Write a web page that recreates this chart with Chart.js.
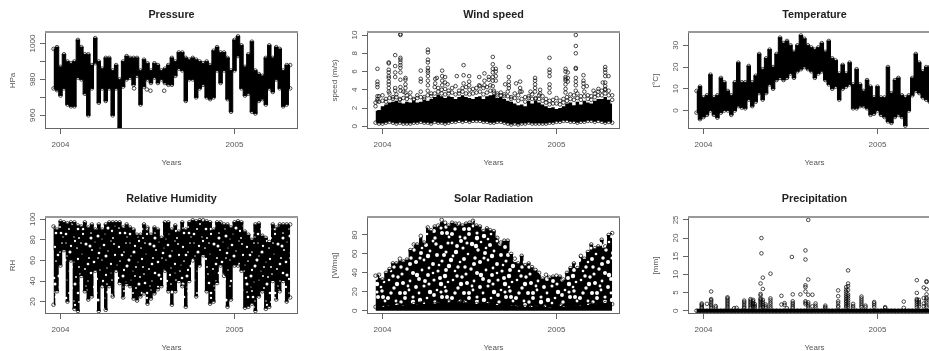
<!DOCTYPE html>
<html><head><meta charset="utf-8">
<script src="https://cdn.jsdelivr.net/npm/chart.js@4"></script>
<style>
html,body{margin:0;padding:0;width:929px;height:351px;overflow:hidden;background:#fff}
#wrap{position:absolute;left:0;top:0;width:929px;height:351px;overflow:hidden;filter:blur(0.4px)}
canvas{position:absolute}
</style></head><body><div id="wrap"></div>
<script>
const years=[2003.96,2003.98,2004.00,2004.02,2004.04,2004.06,2004.08,2004.10,2004.12,2004.14,
2004.16,2004.18,2004.20,2004.22,2004.24,2004.26,2004.28,2004.30,2004.32,2004.34,
2004.36,2004.38,2004.40,2004.42,2004.44,2004.46,2004.48,2004.50,2004.52,2004.54,
2004.56,2004.58,2004.60,2004.62,2004.64,2004.66,2004.68,2004.70,2004.72,2004.74,
2004.76,2004.78,2004.80,2004.82,2004.84,2004.86,2004.88,2004.90,2004.92,2004.94,
2004.96,2004.98,2005.00,2005.02,2005.04,2005.06,2005.08,2005.10,2005.12,2005.14,
2005.16,2005.18,2005.20,2005.22,2005.24,2005.26,2005.28,2005.30,2005.32];

const pressureHigh=[997,998,987,994,990,989,990,1002,998,994,
994,988,1003,990,986,992,992,985,988,980,
990,993,992,992,992,985,991,989,985,989,
988,985,986,988,992,990,995,995,992,991,
992,991,990,989,990,988,996,998,995,995,
992,985,1002,1004,999,987,994,1001,985,983,
982,992,999,992,998,997,985,988,988];
const pressureLow=[975,974,971,975,966,965,965,981,980,972,
960,975,989,967,975,968,975,960,975,953,
976,980,981,977,982,966,976,980,978,981,
978,980,978,977,977,982,986,985,968,980,
980,970,975,977,970,969,970,985,978,985,
969,962,985,993,975,971,972,962,961,968,
969,966,975,973,980,975,965,966,975];
const pressureLoose=[[2004.423,975],[2004.496,974.4],[2004.517,973.7],[2004.596,973.7]];

const windLow=[.4,.3,.3,.4,.5,.4,.3,.4,.3,.3,
.3,.4,.4,.5,.4,.4,.3,.5,.4,.4,
.3,.4,.5,.5,.6,.5,.6,.5,.6,.6,
.6,.5,.5,.4,.4,.5,.5,.4,.3,.2,
.3,.2,.3,.3,.4,.3,.3,.3,.3,.3,
.4,.4,.5,.5,.6,.6,.5,.5,.4,.5,
.5,.6,.6,.5,.6,.5,.4,.5,.4];
const windHigh=[1.7,1.8,2.2,2.4,2.6,2.7,2.8,2.6,2.5,2.7,
2.6,2.8,2.6,2.7,2.9,2.8,3.0,3.2,3.5,3.3,
3.1,3.3,3.2,3.0,3.2,3.4,3.2,3.1,3.0,3.2,
3.3,3.0,3.3,3.4,3.5,3.1,3.2,3.0,2.8,2.7,
2.5,2.3,2.4,2.2,2.8,2.5,2.8,2.6,2.4,2.2,
2.0,2.1,1.9,2.0,2.2,2.5,2.6,2.3,2.7,2.4,
2.8,2.6,2.5,2.8,3.0,3.0,3.2,2.9,2.5];
const windRim=[2.6,3.3,3.4,3.0,3.6,3.2,3.5,3.0,3.8,3.4,
3.7,3.0,3.4,3.8,3.2,3.9,3.6,4.3,4.2,4.0,
4.1,3.9,4.2,4.4,3.9,4.2,4.3,4.0,4.1,4.2,
4.4,4.2,4.3,4.5,3.9,3.6,3.7,3.5,3.8,3.2,
3.6,3.4,3.8,3.2,3.3,3.5,3.1,3.4,3.3,3.0,
2.8,2.9,3.1,2.8,3.0,3.2,3.5,3.4,3.6,3.3,
3.8,3.4,3.3,3.6,3.8,3.9,4.1,3.9,3.4];
const windMid=[2.2,2.7,2.8,2.7,3.1,3.0,3.2,2.9,3.1,3.0,
3.2,2.9,3.1,3.2,3.0,3.4,3.3,3.6,3.8,3.6,
3.5,3.6,3.7,3.5,3.6,3.8,3.6,3.5,3.6,3.7,
3.8,3.5,3.7,3.9,3.7,3.4,3.4,3.3,3.3,3.0,
3.1,2.8,3.0,2.7,3.1,3.0,3.0,3.0,2.8,2.6,
2.4,2.5,2.5,2.4,2.6,2.8,3.0,2.9,3.1,2.9,
3.3,3.0,2.9,3.2,3.4,3.4,3.6,3.4,2.9];
const windLoose=[[2003.971,6.3,4.9,4.6,4.3,3.3,3.0,2.8],[2004.036,7.0,6.9,6.2,5.9,5.5,5.3,4.9,4.6,4.2,3.8],
[2004.073,7.8,6.6,5.9,5.4,4.2,3.9],[2004.103,10.0,10.1,7.5,7.3,7.0,6.7,6.4,5.9,5.1,4.3,3.9],
[2004.132,5.3,5.1,4.6,4.2,3.7],[2004.22,6.1,5.2,4.9],[2004.261,8.4,8.1,7.3,7.0,6.4,6.1,5.9,5.5,5.0,4.5],
[2004.303,5.2,4.7],[2004.312,5.3],[2004.343,6.1,5.5,5.0,4.5],[2004.36,5.4,4.8],[2004.374,4.6],
[2004.427,5.5],[2004.466,6.7,5.6,4.7],[2004.498,5.5,4.9,4.5],[2004.556,5.4,4.5],[2004.586,5.8,5.0,4.5],
[2004.611,5.4,5.1],[2004.634,7.6,6.8,6.3,5.9,5.4,5.0,4.4],[2004.651,6.3,6.0,5.5,5.0],[2004.705,4.6],
[2004.726,6.5,5.4,4.9,4.5,4.2],[2004.768,4.7],[2004.791,4.9,4.2,3.8],[2004.851,3.8],
[2004.877,5.3,5.0,4.6,4.2,3.8],[2004.906,4.0,3.6],[2004.96,7.5,6.2,5.9,5.5,4.6,4.2,3.7],
[2005.052,6.3,6.0,5.4,5.2,5.0,4.6,4.1,3.7],[2005.065,5.9,5.3,4.9],[2005.111,10.0,8.8,8.0,6.4,6.3,5.3,4.9,4.5,3.9],
[2005.155,5.6,5.0,4.7,4.3],[2005.174,4.4],[2005.213,3.9],[2005.241,4.1],[2005.266,4.8],
[2005.28,6.5,6.2,5.9,5.5,4.8,4.4,4.0],[2005.299,5.5]];

const tempHigh=[9,11,6,7,16.5,6,7,15,13,9,
7,13,22,13,13,20.5,13,16,26,19,
24,28,20,26,33.5,31,32,30,27,30,
34.5,33,30,29,28,29,31,27,32,24,
23,17,21,17,22,12,19,12,9,14,
11,6,11,6,6,20,8,14,15,7,
6,7,15,26,22,18,20,20,20];
const tempLow=[-1,-4,-3,-2,0,-2,-3.3,-1,0,0,
-2,0,2,1.3,1,5,2,4,8,5,
8,12,10,14,15,14,15,17,15,18,
19,20,19,18,15,17,18,14,12,10,
11,5,10,11,12,1,1,2,2,1,
-2,-1.5,0,-2,-3,-5,-5.7,-3,-2,-3,
-7,0,7,9,8,6,5,4,6];

const humidityHigh=[93,90,98,97,96,97,97,94,93,97,
92,95,90,95,90,95,97,97,97,97,
92,95,92,90,85,85,95,92,85,92,
90,82,97,97,90,94,88,97,90,97,
99,98,99,99,98,97,90,97,97,95,
95,92,97,98,97,88,85,80,95,96,
84,82,78,95,92,95,95,95,95];
const humidityDark=[70,60,80,85,85,85,80,75,70,80,
75,85,75,80,70,85,85,90,85,80,
65,70,70,65,60,60,70,65,55,70,
70,60,85,85,70,80,60,85,70,80,
90,85,90,92,85,75,65,88,85,80,
70,65,85,88,80,60,55,50,75,78,
60,55,50,80,75,85,85,80,80];
const humidityLow=[17,30,55,70,20,60,13,11,45,30,
22,25,50,11,35,12,35,25,50,38,
24,37,35,23,21,25,28,18,23,28,
32,35,50,30,17,30,40,35,15,40,
60,25,55,65,30,18,20,38,55,45,
15,22,55,55,50,14,15,18,11,25,
30,13,15,40,22,30,40,20,24];

const solarHigh=[37,38,33,40,44,50,50,55,52,54,
64,70,70,79,72,88,85,89,90,96,
93,90,93,92,92,90,92,93,95,90,
89,84,87,85,84,77,72,74,74,60,
55,50,58,48,50,46,43,40,34,38,
35,36,37,36,33,40,45,50,45,58,
55,62,70,66,68,75,68,80,82];
const solarBase=[4,5,4,6,5,5,6,6,5,7,
6,7,6,8,7,8,8,7,9,8,
8,9,8,8,10,8,9,8,8,7,
8,7,8,6,7,6,6,5,6,5,
5,4,5,4,4,4,5,4,4,4,
3,4,4,5,4,4,5,5,6,5,
6,6,7,6,8,7,8,8,7];

const rainBase=[0,0,0,0,0,0,0,0,0,0,0,0,0,0,0,0,0,0,0,0,0,0,0,0,0,0,0,0,0,0,0,0,0,0,0,
0,0,0,0,0,0,0,0,0,0,0,0,0,0,0,0,0,0,0,0,0,0,0,0,0,0,0,0,0,0,0,0,0,0];
const rainLoose=[[2003.99,2.0,1.7,1.4,1.0,.7],[2004.02,1.9],[2004.044,5.3,3.2,2.9,2.5,2.0,1.6,1.2,.8],
[2004.07,1.3,.9],[2004.138,3.7,3.4,3.0,2.6,2.2,1.8,1.4,1.0,.6],[2004.176,.7],[2004.19,.8],
[2004.234,2.8,2.4,2.0,1.5,1.1,.7],[2004.27,3.2,2.8,2.4,2.0,1.6,1.2,.8],[2004.285,3.0,2.6,2.2,1.8,1.4,1.0],
[2004.295,1.8,1.3,.9],[2004.328,7.5,4.6,4.2,3.4,3.1,2.8,2.4,2.0,1.6,1.2,.8],[2004.333,20,15.8],
[2004.341,9.1,6.0,3,2.5,2,1.5,1],[2004.358,1.7,1.2,.8],[2004.385,10.2,3.4,2.9,2.3,1.8,1.2,.7],
[2004.448,4.1,1.7],[2004.466,2.1,1.6],[2004.479,.7],[2004.508,14.8],[2004.513,4.5,2.6,2.1,1.7,1.2,.8],
[2004.557,4.5],[2004.586,16.6,14.1,7,6.5,5.3,2.6,2.2,1.8],[2004.602,25,8.6,4.4,2.3,1.8,1.3,.8],
[2004.626,4.4,1.2],[2004.644,2,1.4,.9],[2004.70,1.4,1,.7],[2004.774,5.6,4,2.6,2.1,1.4,1],
[2004.82,6.5,5.8,5.3,4.7,4.2,3.7,3.2,2.7,2.3,1.8,1.3,.9],[2004.831,11.1,7.5,6.8,5.7,4.5,4,3.4,2.8,2.2,1.6,1.1],
[2004.86,1.9,1.3,.8],[2004.908,3.9,3.4,2.9,2.4,1.9,1.4,1],[2004.931,1.4,1],[2004.981,2.4,2.0,1.5,1],
[2005.044,1,.7],[2005.151,2.5,.8],[2005.226,8.4,4.9,3.2,2.9,2.5,2,1.5,1],[2005.238,3,2.4,1.8,1.2],
[2005.266,6.4,3.5,2,1.2],[2005.282,8.1,7.9,5.9,4.5,3.6,3.3,2.8,2.2,1.5,1]];

const xTickValues=[2004,2005];
const pressureTicks=[960,970,980,990,1000], pressureLabels=[960,980,1000];
const windTicks=[0,2,4,6,8,10];
const tempTicks=[0,10,20,30];
const humidityTicks=[20,40,60,80,100];
const solarTicks=[0,20,40,60,80];
const rainTicks=[0,5,10,15,20,25];

// ---- style: texture tiles for speckled masses
const TILE=64;
const spots=[[2,3],[11,1],[13,8],[22,4],[31,2],[28,10],[40,5],[47,1],[55,7],[62,3],
[6,12],[18,14],[25,18],[35,13],[44,11],[51,15],[60,12],
[1,20],[10,22],[15,27],[30,22],[38,20],[47,24],[56,21],[63,26],
[5,31],[21,29],[27,33],[36,30],[42,35],[52,31],[59,36],
[3,40],[12,37],[17,43],[24,41],[33,39],[48,40],[55,44],[62,42],
[8,48],[14,53],[23,50],[30,47],[38,46],[44,52],[51,50],[60,51],
[2,58],[10,61],[19,58],[27,57],[34,60],[41,58],[49,62],[56,57],[63,61]];
const spotsB=[[7,6],[17,3],[26,6],[36,8],[50,4],[58,15],[3,16],[14,19],[34,18],[42,16],[53,25],[8,27],[24,24],[43,28],
[60,30],[16,34],[31,35],[47,33],[7,36],[54,38],[22,46],[39,41],[43,44],[11,44],[59,47],[5,53],[19,53],[33,53],[48,55],[55,52],[27,62],[38,63],[15,62],[61,57]];
function forWrap(fn){for(const dx of [-TILE,0,TILE])for(const dy of [-TILE,0,TILE])fn(dx,dy)}
function speckTile(r,steps){
  const c=document.createElement('canvas');c.width=TILE;c.height=TILE;
  const g=c.getContext('2d');g.fillStyle='#000';g.fillRect(0,0,TILE,TILE);
  g.fillStyle='#fff';
  [...spots,...spotsB].forEach((p,i)=>forWrap((dx,dy)=>{
    g.beginPath();g.arc(p[0]+dx,p[1]+dy,r*steps[i%steps.length],0,7);g.fill();
  }));
  return g.createPattern(c,'repeat');
}
const solarTexture=speckTile(1.75,[.8,1.1,.9,1.25,.75,1,1.15]), humidTexture=speckTile(.95,[.7,1.2,.9,1.6,.6,1,1.4]);

const ptsOf=(ys)=>years.map((x,i)=>({x,y:ys[i]}));
const looseOf=(cols)=>cols.flatMap(c=>c.slice(1).map(y=>({x:c[0],y})));
const ring={pointRadius:1.8,pointBorderWidth:.7,pointBorderColor:'#000',pointBackgroundColor:'rgba(0,0,0,0)',pointHoverRadius:1.8};
const band=(ys,fill,col,lw)=>({data:ptsOf(ys),fill,backgroundColor:col,borderColor:'#000',borderWidth:lw===undefined?1:lw,stepped:'middle',...ring});
const loose=(pts)=>({data:pts,showLine:false,fill:false,...ring});

const boxFrame={id:'boxFrame',afterDraw(ch){
  const a=ch.chartArea,g=ch.ctx;g.save();
  g.strokeStyle='#666';g.lineWidth=1;
  g.strokeRect(a.left+.5,a.top+.5,a.right-a.left-1,a.bottom-a.top-1);
  g.strokeStyle='#999';g.lineWidth=2;
  g.beginPath();g.moveTo(a.left,a.top);g.lineTo(a.right,a.top);g.stroke();
  g.restore();
}};

function panel(o){
  const c=document.createElement('canvas');
  const row2=o.row===2;
  const w=310,h=row2?185:175;
  c.width=w;c.height=h;c.style.left=o.left+'px';c.style.top=(row2?176:0)+'px';c.style.width=w+'px';c.style.height=h+'px';
  document.getElementById('wrap').appendChild(c);
  const digits=Math.max(...o.ticks.map(v=>String(v).length));
  new Chart(c,{type:'line',data:{datasets:o.datasets},plugins:[boxFrame],options:{
    responsive:false,animation:false,devicePixelRatio:1,
    layout:{autoPadding:false,padding:{left:0,right:12,top:0,bottom:0}},
    plugins:{legend:{display:false},tooltip:{enabled:false},
      title:{display:true,text:o.title,fullSize:false,color:'#222',font:{family:'"Liberation Sans"',size:10.8,weight:'bold',lineHeight:1},
        padding:{top:row2?18:10,bottom:row2?12.2:11.2}}},
    events:[],
    scales:{
      x:{type:'linear',min:2003.911,max:2005.365,
        afterBuildTicks:s=>{s.ticks=xTickValues.map(value=>({value}))},
        afterFit:s=>{s.height=row2?47:46},
        grid:{drawOnChartArea:false,tickLength:5,color:'#666'},border:{display:false},
        ticks:{autoSkip:false,maxRotation:0,padding:6,color:'#555',font:{family:'"Liberation Sans"',size:8},callback:v=>String(v)},
        title:{display:true,text:'Years',color:'#555',font:{family:'"Liberation Sans"',size:8,lineHeight:1},padding:{top:row2?9:8,bottom:row2?9:8}}},
      y:{type:'linear',min:o.min,max:o.max,
        afterBuildTicks:s=>{s.ticks=o.ticks.map(value=>({value}))},
        afterFit:s=>{s.width=45},
        grid:{drawOnChartArea:false,tickLength:5,color:'#666'},border:{display:false},
        ticks:{autoSkip:false,minRotation:90,maxRotation:90,crossAlign:'center',padding:7.5-digits*2.22,color:'#555',
          font:{family:'"Liberation Sans"',size:8},callback:v=>(o.labels?o.labels.includes(v):true)?String(v):''},
        title:{display:true,text:o.ylabel,color:'#555',font:{family:'"Liberation Sans"',size:8,lineHeight:1},padding:{top:9,bottom:9}}}
    }}});
}

panel({row:1,left:0,title:'Pressure',ylabel:'HPa',min:952.4,max:1006.4,ticks:pressureTicks,labels:pressureLabels,datasets:[
  band(pressureLow,false,'#000'),band(pressureHigh,'-1','#000'),loose(pressureLoose.map(p=>({x:p[0],y:p[1]})))]});
panel({row:1,left:322,title:'Wind speed',ylabel:'speed (m/s)',min:-0.29,max:10.33,ticks:windTicks,datasets:[
  band(windLow,false,'#000',0),{...band(windHigh,'-1','#000',0),pointRadius:0},loose(ptsOf(windMid)),loose(ptsOf(windRim)),loose(looseOf(windLoose))]});
panel({row:1,left:643,title:'Temperature',ylabel:'[°C]',min:-8.5,max:36.1,ticks:tempTicks,datasets:[
  band(tempLow,false,'#000'),band(tempHigh,'-1','#000')]});
panel({row:2,left:0,title:'Relative Humidity',ylabel:'RH',min:8,max:102.2,ticks:humidityTicks,datasets:[
  band(humidityLow,false,humidTexture,0),band(humidityHigh,'-1',humidTexture,0),{...band(humidityDark,'-1','#000',0),pointRadius:0}]});
panel({row:2,left:322,title:'Solar Radiation',ylabel:'[W/mq]',min:-3.5,max:99,ticks:solarTicks,datasets:[
  band(solarBase,{value:0},'#000',0),band(solarHigh,'-1',solarTexture,0)]});
panel({row:2,left:643,title:'Precipitation',ylabel:'[mm]',min:-0.9,max:25.8,ticks:rainTicks,datasets:[
  {...band(rainBase,false,'#000',4)},loose(looseOf(rainLoose))]});
</script></body></html>
